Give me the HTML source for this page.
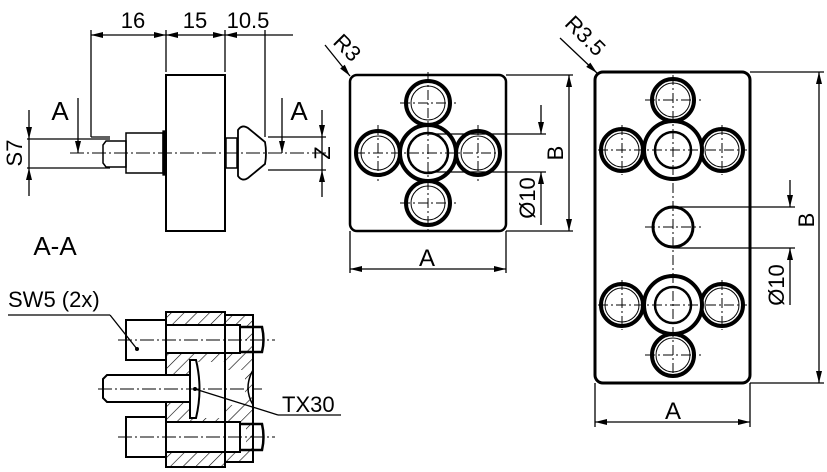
<!DOCTYPE html>
<html><head><style>html,body{margin:0;padding:0;background:#fff}svg{display:block}text{font-family:"Liberation Sans",sans-serif;fill:#000}</style></head>
<body>
<svg width="827" height="472" viewBox="0 0 827 472" xmlns="http://www.w3.org/2000/svg">
<defs>
<marker id="ar" viewBox="0 0 12 6" refX="12" refY="3" markerWidth="13" markerHeight="6" markerUnits="userSpaceOnUse" orient="auto-start-reverse"><path d="M0,0L12,3L0,6z" fill="#000"/></marker>
<pattern id="h" width="9" height="9" patternUnits="userSpaceOnUse" patternTransform="rotate(45)"><line x1="0" y1="0" x2="0" y2="9" stroke="#000" stroke-width="1.2"/></pattern>
</defs>
<g stroke="#000" fill="none" stroke-width="1.3">
<!-- side view -->
<line x1="91" y1="30" x2="91" y2="137"/><line x1="166" y1="30" x2="166" y2="72"/><line x1="225" y1="30" x2="225" y2="72"/><line x1="265" y1="30" x2="265" y2="137"/>
<line x1="91" y1="35" x2="166" y2="35" marker-start="url(#ar)" marker-end="url(#ar)"/>
<line x1="166" y1="35" x2="225" y2="35" marker-start="url(#ar)" marker-end="url(#ar)"/>
<line x1="225" y1="35" x2="265" y2="35" marker-start="url(#ar)"/><line x1="265" y1="35" x2="293" y2="35"/>
<line x1="91" y1="137" x2="110" y2="137"/>
<rect x="166" y="75" width="59" height="156" stroke-width="2"/>
<path d="M103,145 L106,141 L126,141 L126,167 L106,167 L103,163 Z" stroke-width="1.5"/>
<rect x="126" y="133" width="37" height="40" stroke-width="1.5"/>
<rect x="163" y="131" width="3" height="44" fill="#000"/>
<rect x="226" y="138" width="11" height="30" stroke-width="1.5"/>
<path d="M238,130 Q242,124 248,128 L265,142 Q267,153 265,164 L248,178 Q242,182 238,176 Z" stroke-width="1.8"/>
<line x1="70" y1="153" x2="330" y2="153" stroke-dasharray="14,3,2,3" stroke-width="1"/>
<line x1="78" y1="98" x2="78" y2="153" marker-end="url(#ar)"/>
<line x1="282" y1="98" x2="282" y2="153" marker-end="url(#ar)"/>
<line x1="27" y1="139" x2="110" y2="139"/><line x1="27" y1="168" x2="110" y2="168"/>
<line x1="29" y1="110" x2="29" y2="139" marker-end="url(#ar)"/><line x1="29" y1="196" x2="29" y2="168" marker-end="url(#ar)"/><line x1="29" y1="139" x2="29" y2="168"/>
<line x1="268" y1="137" x2="326" y2="137"/><line x1="268" y1="170" x2="326" y2="170"/>
<line x1="322" y1="110" x2="322" y2="137" marker-end="url(#ar)"/><line x1="322" y1="197" x2="322" y2="170" marker-end="url(#ar)"/><line x1="322" y1="137" x2="322" y2="170"/>

<!-- middle plate -->
<rect x="350" y="75" width="156" height="156" rx="7" stroke-width="2.5"/>
<g stroke-width="4"><circle cx="428" cy="103" r="22"/><circle cx="428" cy="203" r="22"/><circle cx="378" cy="153" r="22"/><circle cx="478" cy="153" r="22"/><circle cx="428" cy="153" r="28" fill="#fff"/></g>
<g stroke-width="1"><circle cx="428" cy="103" r="17"/><circle cx="428" cy="203" r="17"/><circle cx="378" cy="153" r="17"/><circle cx="478" cy="153" r="17"/></g>
<circle cx="428" cy="153" r="20" stroke-width="2.5"/>
<g stroke-dasharray="10,3,2,3" stroke-width="1"><line x1="428" y1="72" x2="428" y2="234"/><line x1="355" y1="153" x2="501" y2="153"/><line x1="400" y1="103" x2="456" y2="103"/><line x1="400" y1="203" x2="456" y2="203"/><line x1="378" y1="125" x2="378" y2="181"/><line x1="478" y1="125" x2="478" y2="181"/></g>
<line x1="506" y1="75" x2="573" y2="75"/><line x1="506" y1="231" x2="573" y2="231"/>
<line x1="569" y1="75" x2="569" y2="231" marker-start="url(#ar)" marker-end="url(#ar)"/>
<line x1="428" y1="134" x2="546" y2="134"/><line x1="428" y1="172" x2="546" y2="172"/>
<line x1="541" y1="105" x2="541" y2="134" marker-end="url(#ar)"/><line x1="541" y1="225" x2="541" y2="172" marker-end="url(#ar)"/>
<line x1="350" y1="231" x2="350" y2="273"/><line x1="506" y1="231" x2="506" y2="273"/>
<line x1="350" y1="269" x2="506" y2="269" marker-start="url(#ar)" marker-end="url(#ar)"/>
<line x1="325" y1="45" x2="350" y2="76" marker-end="url(#ar)"/>

<!-- right plate -->
<rect x="595" y="72" width="155" height="311" rx="8" stroke-width="3"/>
<g stroke-width="4"><circle cx="673" cy="100" r="21"/><circle cx="673" cy="355" r="21"/><circle cx="622" cy="150" r="21"/><circle cx="722" cy="150" r="21"/><circle cx="622" cy="305" r="21"/><circle cx="722" cy="305" r="21"/><circle cx="673" cy="150" r="29" fill="#fff"/><circle cx="673" cy="305" r="29" fill="#fff"/><circle cx="673" cy="227" r="20" stroke-width="3"/></g>
<g stroke-width="1"><circle cx="673" cy="100" r="17"/><circle cx="673" cy="355" r="17"/><circle cx="622" cy="150" r="17"/><circle cx="722" cy="150" r="17"/><circle cx="622" cy="305" r="17"/><circle cx="722" cy="305" r="17"/></g>
<circle cx="673" cy="150" r="18" stroke-width="2.5"/><circle cx="673" cy="305" r="18" stroke-width="2.5"/>
<g stroke-dasharray="10,3,2,3" stroke-width="1"><line x1="673" y1="75" x2="673" y2="380"/><line x1="598" y1="150" x2="747" y2="150"/><line x1="598" y1="305" x2="747" y2="305"/><line x1="645" y1="100" x2="701" y2="100"/><line x1="645" y1="355" x2="701" y2="355"/><line x1="645" y1="227" x2="701" y2="227"/><line x1="622" y1="125" x2="622" y2="175"/><line x1="722" y1="125" x2="722" y2="175"/><line x1="622" y1="280" x2="622" y2="330"/><line x1="722" y1="280" x2="722" y2="330"/></g>
<line x1="750" y1="72" x2="824" y2="72"/><line x1="750" y1="383" x2="824" y2="383"/>
<line x1="819" y1="72" x2="819" y2="383" marker-start="url(#ar)" marker-end="url(#ar)"/>
<line x1="673" y1="207" x2="795" y2="207"/><line x1="673" y1="248" x2="795" y2="248"/>
<line x1="790" y1="180" x2="790" y2="207" marker-end="url(#ar)"/><line x1="790" y1="305" x2="790" y2="248" marker-end="url(#ar)"/>
<line x1="595" y1="383" x2="595" y2="427"/><line x1="750" y1="383" x2="750" y2="427"/>
<line x1="595" y1="422" x2="750" y2="422" marker-start="url(#ar)" marker-end="url(#ar)"/>
<line x1="560" y1="38" x2="597" y2="73" marker-end="url(#ar)"/>

<!-- section -->
<rect x="166" y="312" width="59" height="155" fill="url(#h)"/>
<rect x="225" y="315" width="28" height="147" fill="url(#h)"/>
<g fill="#fff" stroke="none"><rect x="166" y="325" width="80" height="28"/><rect x="166" y="422" width="80" height="30"/><rect x="190" y="362" width="35" height="56"/><rect x="166" y="375" width="30" height="27"/><rect x="225" y="370" width="20" height="35"/></g>
<rect x="166" y="312" width="59" height="155" stroke-width="2"/>
<path d="M225,315 L253,315 L253,462 L225,462" stroke-width="2"/>
<path d="M253,370 Q243,388 253,405" stroke-width="1.5"/>
<rect x="126" y="320" width="40" height="40" stroke-width="2" fill="#fff"/>
<rect x="126" y="417" width="40" height="40" stroke-width="2" fill="#fff"/>
<rect x="166" y="325" width="74" height="28" stroke-width="2"/><rect x="166" y="422" width="74" height="30" stroke-width="2"/>
<path d="M240,327 L262,327 Q265,340 262,352 L240,352" stroke-width="2.5"/>
<path d="M240,424 L262,424 Q265,437 262,450 L240,450" stroke-width="2.5"/>
<path d="M103,379 L107,375 L190,375 L190,402 L107,402 L103,398 Z" stroke-width="2" fill="#fff"/>
<path d="M190,360 L196,360 Q203,389 196,418 L190,418 Z" stroke-width="2" fill="#fff"/>
<g stroke-dasharray="14,3,2,3" stroke-width="1"><line x1="118" y1="340" x2="275" y2="340"/><line x1="118" y1="437" x2="275" y2="437"/><line x1="98" y1="389" x2="262" y2="389"/></g>
<line x1="8" y1="315" x2="110" y2="315"/><line x1="110" y1="315" x2="137" y2="349"/>
<line x1="195" y1="389" x2="278" y2="415"/><line x1="278" y1="415" x2="341" y2="415"/>
</g>
<circle cx="137" cy="349" r="2" fill="#000"/><circle cx="195" cy="389" r="2" fill="#000"/>
<g font-size="22">
<text x="133" y="28" text-anchor="middle">16</text><text x="195" y="28" text-anchor="middle">15</text><text x="248" y="28" text-anchor="middle">10.5</text>
<text x="60" y="120" text-anchor="middle" font-size="26">A</text><text x="299" y="120" text-anchor="middle" font-size="26">A</text>
<text transform="translate(22,153) rotate(-90)" text-anchor="middle">S7</text>
<text transform="translate(330,153) rotate(-90)" text-anchor="middle">Z</text>
<text x="55" y="255" text-anchor="middle" font-size="26">A-A</text>
<text x="8" y="307">SW5 (2x)</text><text x="282" y="412">TX30</text>
<text transform="translate(342,53) rotate(45)" text-anchor="middle">R3</text>
<text transform="translate(580,41) rotate(45)" text-anchor="middle">R3.5</text>
<text transform="translate(563,153) rotate(-90)" text-anchor="middle">B</text>
<text transform="translate(535,198) rotate(-90)" text-anchor="middle">Ø10</text>
<text x="427" y="266" text-anchor="middle" font-size="24">A</text>
<text transform="translate(814,220) rotate(-90)" text-anchor="middle">B</text>
<text transform="translate(784,285) rotate(-90)" text-anchor="middle">Ø10</text>
<text x="673" y="419" text-anchor="middle" font-size="24">A</text>
</g>
</svg>
</body></html>
